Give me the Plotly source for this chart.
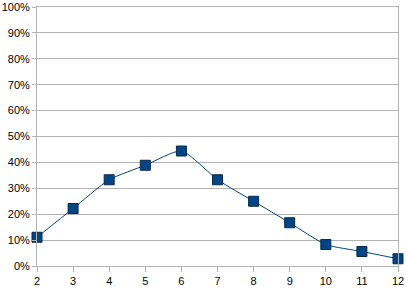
import plotly.graph_objects as go

x_vals = [2, 3, 4, 5, 6, 7, 8, 9, 10, 11, 12]
y_vals = [0.111, 0.222, 0.333, 0.389, 0.444, 0.333, 0.25, 0.167, 0.083, 0.056, 0.028]
y_ticks = [0, 0.1, 0.2, 0.3, 0.4, 0.5, 0.6, 0.7, 0.8, 0.9, 1.0]

fig = go.Figure()
fig.add_trace(go.Scatter(
    x=x_vals, y=y_vals, mode="lines+markers",
    line=dict(color="#004586", width=1, shape="spline", smoothing=0.6),
    marker=dict(symbol="square", size=10, color="#004586",
                line=dict(color="#0a2a4a", width=1)),
    cliponaxis=False, showlegend=False,
))
grid = "#b3b3b3"
fig.update_layout(
    width=406, height=291,
    margin=dict(l=37, r=8, t=7, b=25, autoexpand=False),
    paper_bgcolor="white", plot_bgcolor="white",
    font=dict(family="Liberation Sans, Arial", size=11, color="black"),
    xaxis=dict(range=[2, 12], tickvals=x_vals, showgrid=False, automargin=False,
               showline=True, linecolor=grid, linewidth=1, mirror=True,
               ticks="outside", ticklen=5, tickcolor=grid, zeroline=False),
    yaxis=dict(range=[0, 1], tickvals=y_ticks, tickformat=".0%", automargin=False,
               showgrid=True, gridcolor=grid, gridwidth=1,
               showline=True, linecolor=grid, linewidth=1, mirror=True,
               ticks="outside", ticklen=4, tickcolor=grid, zeroline=False),
)
fig.write_html("out.html")
